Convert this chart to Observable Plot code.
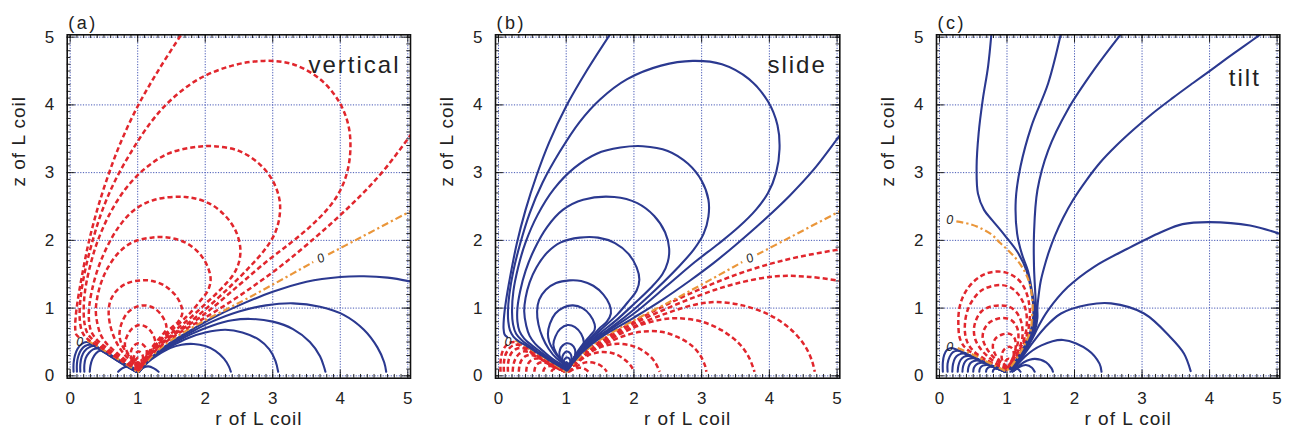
<!DOCTYPE html>
<html>
<head>
<meta charset="utf-8">
<script src="https://cdn.jsdelivr.net/npm/d3@7"></script>
<script src="https://cdn.jsdelivr.net/npm/@observablehq/plot@0.6"></script>
<style>
  body { margin: 0; background: #fff; }
  #wrap { position: relative; width: 1297px; height: 440px; overflow: hidden; }
  #wrap svg { position: absolute; top: 0; }
</style>
</head>
<body>
<div id="wrap"></div>
<script>
// ---- axis ticks and panel labels ----
const rTicks = [0, 1, 2, 3, 4, 5];
const zTicks = [0, 1, 2, 3, 4, 5];
const panelLetters = ["(a)", "(b)", "(c)"];
const panelNames = ["vertical", "slide", "tilt"];
const axisTitleX = "r of L coil";
const axisTitleZ = "z of L coil";

// ---- loops above the diagonal (same geometry in "vertical" and "slide") ----
const upperLoops = [
  [[0.13,0.57],[0.09,0.61],[0.075,0.7],[0.08,0.85],[0.11,1.1],[0.17,1.45],[0.27,1.95],[0.4,2.45],[0.56,2.95],[0.75,3.45],[1.0,3.98],[1.3,4.5],[1.66,5.06]],
  [[5.06,3.58],[4.65,3.04],[4.3,2.66],[3.91,2.29],[3.51,1.94],[3.17,1.66],[2.82,1.4],[2.43,1.13],[2.0,0.86],[1.5,0.56],[1.25,0.36],[1.1,0.2],[1.01,0.08]],
  [[1.01,0.08],[0.8,0.2],[0.6,0.325],[0.42,0.44],[0.3,0.51],[0.22,0.58],[0.17,0.67],[0.145,0.8],[0.14,0.95],[0.16,1.2],[0.22,1.55],[0.32,1.95],[0.46,2.4],[0.65,2.85],[0.9,3.3],[1.2,3.75],[1.5,4.08],[1.9,4.38],[2.4,4.58],[2.87,4.65],[3.3,4.6],[3.7,4.38],[3.98,4.05],[4.12,3.7],[4.15,3.35],[4.1,3.0],[3.98,2.7],[3.8,2.45],[3.55,2.2],[3.25,1.95],[2.9,1.68],[2.5,1.34],[2.0,0.92],[1.5,0.58],[1.25,0.38],[1.1,0.21],[1.02,0.09]],
  [[1.02,0.09],[0.8,0.21],[0.6,0.34],[0.45,0.445],[0.34,0.53],[0.26,0.62],[0.215,0.76],[0.2,0.95],[0.22,1.25],[0.29,1.6],[0.4,1.97],[0.58,2.38],[0.82,2.76],[1.12,3.07],[1.45,3.28],[1.8,3.37],[2.13,3.39],[2.5,3.32],[2.8,3.13],[3.0,2.88],[3.1,2.6],[3.1,2.35],[3.03,2.1],[2.88,1.86],[2.65,1.6],[2.35,1.3],[2.0,0.98],[1.7,0.74],[1.5,0.6],[1.25,0.4],[1.1,0.23],[1.03,0.1]],
  [[1.03,0.1],[0.8,0.225],[0.62,0.355],[0.48,0.46],[0.38,0.55],[0.31,0.66],[0.28,0.8],[0.28,1.0],[0.32,1.25],[0.4,1.55],[0.53,1.87],[0.72,2.2],[0.95,2.45],[1.25,2.6],[1.71,2.64],[2.05,2.55],[2.3,2.36],[2.46,2.12],[2.52,1.88],[2.5,1.68],[2.42,1.5],[2.25,1.3],[2.0,1.06],[1.75,0.83],[1.5,0.63],[1.25,0.42],[1.1,0.25],[1.04,0.11]],
  [[1.04,0.11],[0.82,0.235],[0.66,0.365],[0.54,0.475],[0.46,0.59],[0.41,0.74],[0.38,0.95],[0.4,1.15],[0.46,1.38],[0.56,1.6],[0.72,1.82],[0.92,1.97],[1.2,2.04],[1.47,2.04],[1.72,1.96],[1.92,1.8],[2.04,1.6],[2.08,1.42],[2.04,1.26],[1.92,1.1],[1.75,0.9],[1.5,0.67],[1.27,0.45],[1.12,0.27],[1.05,0.12]],
  [[1.05,0.12],[0.86,0.255],[0.74,0.4],[0.65,0.57],[0.59,0.76],[0.57,0.95],[0.6,1.12],[0.7,1.27],[0.85,1.37],[1.05,1.41],[1.22,1.4],[1.4,1.33],[1.55,1.2],[1.64,1.05],[1.66,0.92],[1.6,0.8],[1.5,0.71],[1.38,0.58],[1.25,0.44],[1.13,0.29],[1.06,0.13]],
  [[1.06,0.14],[0.9,0.26],[0.81,0.38],[0.75,0.5],[0.73,0.62],[0.76,0.77],[0.84,0.92],[0.96,1.01],[1.1,1.04],[1.24,1.0],[1.35,0.9],[1.42,0.76],[1.42,0.68],[1.36,0.6],[1.25,0.47],[1.14,0.31],[1.07,0.15]],
  [[1.03,0.15],[0.92,0.24],[0.85,0.34],[0.81,0.46],[0.84,0.58],[0.91,0.69],[1.02,0.75],[1.13,0.72],[1.22,0.62],[1.26,0.5],[1.24,0.39],[1.17,0.28],[1.09,0.19],[1.03,0.15]],
  [[1.02,0.16],[0.95,0.21],[0.9,0.3],[0.91,0.39],[0.95,0.45],[1.01,0.48],[1.08,0.46],[1.13,0.39],[1.13,0.3],[1.09,0.22],[1.02,0.16]],
  [[1.01,0.14],[0.96,0.18],[0.94,0.25],[0.96,0.32],[1.01,0.36],[1.06,0.33],[1.08,0.26],[1.06,0.18],[1.01,0.14]],
  [[1.0,0.11],[0.97,0.15],[0.96,0.2],[0.98,0.25],[1.01,0.27],[1.05,0.25],[1.06,0.19],[1.04,0.13],[1.0,0.11]],
  [[1.0,0.08],[0.975,0.11],[0.975,0.16],[1.0,0.2],[1.03,0.18],[1.035,0.12],[1.02,0.09],[1.0,0.08]]
];

// ---- zero contour shared by the first two panels ----
const zeroRightAB = [
  [[1.0,0.05],[1.25,0.33],[1.5,0.53],[2.0,0.82],[2.35,1.0],[2.6,1.13],[3.06,1.38],[3.6,1.68]],
  [[3.82,1.79],[4.22,2.0],[5.06,2.44]]
];
const zeroLeftAB = [[[0.25,0.52],[0.4,0.44],[0.6,0.315],[0.8,0.19],[0.98,0.07]]];
const zeroLabelsAB = [{r: 0.14, z: 0.5, a: 0}, {r: 3.71, z: 1.735, a: -27}];

// ---- "vertical": positive contours below the diagonal ----
const verticalArcsRight = [
  [[1.02,0.06],[1.25,0.31],[1.5,0.5],[1.8,0.68],[2.1,0.85],[2.5,1.04],[3.0,1.24],[3.5,1.39],[4.0,1.46],[4.35,1.47],[4.7,1.45],[5.06,1.39]],
  [[1.02,0.06],[1.25,0.3],[1.5,0.48],[1.8,0.65],[2.1,0.8],[2.5,0.95],[2.9,1.04],[3.3,1.07],[3.7,1.02],[4.05,0.9],[4.35,0.68],[4.55,0.42],[4.65,0.2],[4.68,0.06]],
  [[1.02,0.06],[1.22,0.28],[1.5,0.46],[1.8,0.62],[2.1,0.74],[2.4,0.82],[2.67,0.84],[3.0,0.8],[3.3,0.69],[3.55,0.5],[3.7,0.29],[3.76,0.13],[3.78,0.06]],
  [[1.02,0.06],[1.2,0.26],[1.5,0.44],[1.75,0.56],[2.0,0.64],[2.3,0.68],[2.55,0.64],[2.8,0.53],[2.95,0.39],[3.04,0.22],[3.08,0.06]],
  [[1.02,0.06],[1.15,0.2],[1.3,0.31],[1.48,0.41],[1.65,0.46],[1.83,0.47],[2.0,0.44],[2.15,0.37],[2.28,0.25],[2.35,0.14],[2.38,0.06]]
];
const verticalArcsLeft = [
  [[0.05,0.06],[0.05,0.18],[0.07,0.3],[0.11,0.4],[0.17,0.47],[0.24,0.5],[0.32,0.47],[0.5,0.37],[0.7,0.245],[0.85,0.15],[0.98,0.06]],
  [[0.1,0.06],[0.1,0.18],[0.12,0.29],[0.16,0.38],[0.22,0.44],[0.3,0.46],[0.38,0.43],[0.5,0.36],[0.7,0.237],[0.85,0.145],[0.98,0.06]],
  [[0.15,0.06],[0.15,0.17],[0.17,0.28],[0.21,0.36],[0.28,0.42],[0.35,0.44],[0.42,0.41],[0.5,0.355],[0.7,0.23],[0.85,0.14],[0.98,0.06]],
  [[0.21,0.06],[0.21,0.16],[0.23,0.26],[0.28,0.34],[0.34,0.39],[0.41,0.405],[0.5,0.35],[0.7,0.225],[0.85,0.135],[0.98,0.06]],
  [[0.29,0.06],[0.3,0.15],[0.33,0.25],[0.38,0.33],[0.44,0.37],[0.52,0.34],[0.7,0.22],[0.85,0.13],[0.98,0.06]],
  [[0.71,0.06],[0.77,0.11],[0.85,0.14],[0.93,0.12],[0.98,0.07]],
  [[1.02,0.07],[1.08,0.12],[1.16,0.14],[1.24,0.11],[1.31,0.06]]
];

// ---- "slide": negative contours below the diagonal ----
const slideArcsRight = [
  [[1.02,0.06],[1.25,0.32],[1.5,0.51],[2.0,0.8],[2.5,1.06],[3.0,1.29],[3.5,1.49],[4.0,1.65],[4.5,1.77],[5.06,1.87]],
  [[1.02,0.06],[1.25,0.31],[1.5,0.49],[2.0,0.77],[2.5,1.0],[3.0,1.2],[3.5,1.36],[4.1,1.47],[4.6,1.46],[5.06,1.4]],
  [[1.02,0.06],[1.25,0.3],[1.5,0.47],[2.0,0.73],[2.5,0.93],[2.9,1.05],[3.22,1.09],[3.6,1.04],[4.0,0.9],[4.3,0.7],[4.52,0.45],[4.63,0.22],[4.67,0.06]],
  [[1.02,0.06],[1.25,0.29],[1.5,0.45],[1.8,0.62],[2.1,0.75],[2.4,0.83],[2.65,0.85],[3.0,0.8],[3.3,0.67],[3.55,0.48],[3.7,0.27],[3.78,0.06]],
  [[1.02,0.06],[1.25,0.28],[1.5,0.43],[1.8,0.57],[2.1,0.65],[2.4,0.65],[2.65,0.57],[2.85,0.45],[2.98,0.3],[3.05,0.15],[3.07,0.06]],
  [[1.02,0.06],[1.2,0.25],[1.45,0.4],[1.7,0.47],[1.95,0.45],[2.15,0.36],[2.3,0.22],[2.38,0.06]],
  [[1.03,0.06],[1.15,0.18],[1.32,0.3],[1.5,0.35],[1.7,0.33],[1.85,0.25],[1.96,0.14],[2.0,0.06]],
  [[1.04,0.06],[1.15,0.14],[1.3,0.2],[1.45,0.18],[1.55,0.12],[1.6,0.06]],
  [[1.04,0.06],[1.12,0.1],[1.2,0.12],[1.28,0.1],[1.33,0.06]]
];
const slideArcsLeft = [
  [[0.03,0.06],[0.03,0.2],[0.05,0.33],[0.09,0.42],[0.15,0.48],[0.23,0.5],[0.32,0.47],[0.5,0.37],[0.7,0.245],[0.85,0.15],[0.98,0.06]],
  [[0.08,0.06],[0.08,0.19],[0.1,0.3],[0.14,0.38],[0.2,0.44],[0.28,0.46],[0.38,0.42],[0.5,0.355],[0.7,0.235],[0.85,0.145],[0.98,0.06]],
  [[0.14,0.06],[0.14,0.17],[0.16,0.27],[0.2,0.35],[0.27,0.4],[0.35,0.41],[0.44,0.37],[0.55,0.31],[0.7,0.225],[0.85,0.14],[0.98,0.06]],
  [[0.21,0.06],[0.22,0.16],[0.25,0.25],[0.3,0.32],[0.37,0.36],[0.45,0.35],[0.55,0.3],[0.7,0.215],[0.85,0.135],[0.98,0.06]],
  [[0.3,0.06],[0.31,0.15],[0.34,0.23],[0.4,0.29],[0.47,0.31],[0.55,0.29],[0.65,0.235],[0.8,0.15],[0.98,0.06]],
  [[0.41,0.06],[0.42,0.14],[0.46,0.21],[0.52,0.25],[0.59,0.255],[0.67,0.22],[0.8,0.145],[0.98,0.06]],
  [[0.53,0.06],[0.54,0.12],[0.58,0.18],[0.64,0.2],[0.71,0.19],[0.8,0.14],[0.9,0.1],[0.98,0.06]],
  [[0.66,0.06],[0.68,0.11],[0.73,0.14],[0.8,0.14],[0.88,0.11],[0.98,0.06]],
  [[0.78,0.06],[0.8,0.09],[0.85,0.105],[0.91,0.095],[0.98,0.06]]
];

// ---- "tilt" ----
const tiltFan = [
  [[0.77,5.06],[0.72,4.57],[0.64,4.07],[0.58,3.58],[0.55,3.09],[0.57,2.69],[0.66,2.45],[0.78,2.3],[0.97,2.07],[1.16,1.82],[1.29,1.55],[1.36,1.25],[1.39,1.0],[1.38,0.8],[1.33,0.6],[1.24,0.4],[1.13,0.22],[1.04,0.1]],
  [[1.8,5.06],[1.61,4.32],[1.36,3.68],[1.2,3.09],[1.13,2.6],[1.15,2.1],[1.22,1.8],[1.31,1.55],[1.37,1.25],[1.41,1.0],[1.41,0.85],[1.37,0.65],[1.28,0.43],[1.15,0.23],[1.05,0.1]],
  [[2.7,5.06],[2.29,4.52],[1.9,3.93],[1.61,3.33],[1.45,2.74],[1.4,2.1],[1.4,1.61],[1.42,1.2],[1.43,1.0],[1.43,0.85],[1.39,0.65],[1.3,0.44],[1.17,0.24],[1.06,0.1]],
  [[4.78,5.06],[4.5,4.86],[4.26,4.69],[4.0,4.5],[3.75,4.32],[3.45,4.1],[3.15,3.87],[2.88,3.64],[2.62,3.4],[2.38,3.15],[2.17,2.88],[1.98,2.6],[1.83,2.33],[1.71,2.07],[1.62,1.83],[1.55,1.6],[1.5,1.4],[1.47,1.2],[1.45,1.0],[1.45,0.85],[1.41,0.65],[1.32,0.45],[1.19,0.25],[1.07,0.1]],
  [[5.06,2.09],[4.6,2.22],[4.0,2.27],[3.6,2.24],[3.28,2.12],[2.79,1.88],[2.29,1.61],[1.9,1.31],[1.61,0.97],[1.47,0.74],[1.38,0.56],[1.27,0.38],[1.16,0.22],[1.07,0.1]],
  [[1.08,0.09],[1.2,0.24],[1.35,0.45],[1.55,0.7],[1.8,0.92],[2.2,1.05],[2.54,1.07],[3.03,0.92],[3.42,0.57],[3.62,0.33],[3.72,0.07]],
  [[1.09,0.08],[1.26,0.28],[1.51,0.45],[1.83,0.53],[2.2,0.38],[2.37,0.18],[2.4,0.06]],
  [[1.1,0.07],[1.25,0.2],[1.41,0.25],[1.58,0.2],[1.66,0.11],[1.68,0.06]],
  [[1.08,0.06],[1.18,0.13],[1.28,0.16],[1.37,0.12],[1.41,0.06]],
  [[1.05,0.06],[1.1,0.09],[1.16,0.1],[1.2,0.06]]
];
const tiltArcsLeft = [
  [[0.05,0.06],[0.05,0.2],[0.07,0.31],[0.11,0.38],[0.17,0.41],[0.25,0.39],[0.5,0.28],[0.75,0.165],[0.97,0.07]],
  [[0.12,0.06],[0.12,0.18],[0.15,0.28],[0.2,0.35],[0.27,0.37],[0.35,0.345],[0.5,0.275],[0.75,0.16],[0.97,0.068]],
  [[0.19,0.06],[0.2,0.17],[0.23,0.26],[0.28,0.31],[0.35,0.33],[0.42,0.31],[0.55,0.25],[0.75,0.155],[0.97,0.066]],
  [[0.27,0.06],[0.28,0.15],[0.31,0.23],[0.36,0.28],[0.43,0.295],[0.5,0.27],[0.6,0.225],[0.75,0.15],[0.97,0.064]],
  [[0.34,0.06],[0.35,0.14],[0.38,0.21],[0.43,0.25],[0.5,0.26],[0.57,0.24],[0.65,0.2],[0.78,0.14],[0.97,0.062]],
  [[0.42,0.06],[0.43,0.13],[0.46,0.19],[0.51,0.22],[0.58,0.225],[0.65,0.2],[0.75,0.15],[0.87,0.1],[0.97,0.06]],
  [[0.5,0.06],[0.51,0.12],[0.55,0.17],[0.6,0.19],[0.66,0.19],[0.73,0.165],[0.83,0.12],[0.97,0.06]],
  [[0.59,0.06],[0.6,0.11],[0.64,0.15],[0.7,0.16],[0.76,0.15],[0.85,0.11],[0.97,0.06]],
  [[0.69,0.06],[0.7,0.1],[0.74,0.13],[0.8,0.13],[0.87,0.11],[0.97,0.06]],
  [[0.79,0.06],[0.8,0.09],[0.85,0.11],[0.91,0.1],[0.97,0.06]]
];
const tiltLoops = [
  [[1.0,0.08],[0.8,0.17],[0.6,0.27],[0.45,0.36],[0.36,0.44],[0.3,0.56],[0.28,0.75],[0.29,0.97],[0.34,1.15],[0.44,1.32],[0.58,1.45],[0.72,1.52],[0.87,1.54],[1.0,1.52],[1.12,1.46],[1.22,1.36],[1.29,1.22],[1.33,1.05],[1.34,0.9],[1.32,0.7],[1.26,0.5],[1.17,0.32],[1.08,0.17],[1.02,0.09]],
  [[1.0,0.09],[0.8,0.18],[0.62,0.28],[0.5,0.37],[0.42,0.48],[0.38,0.62],[0.38,0.8],[0.42,0.98],[0.5,1.13],[0.62,1.26],[0.76,1.32],[0.92,1.34],[1.06,1.3],[1.17,1.2],[1.25,1.06],[1.29,0.9],[1.29,0.72],[1.25,0.53],[1.17,0.35],[1.08,0.19],[1.02,0.1]],
  [[1.0,0.1],[0.84,0.19],[0.7,0.3],[0.6,0.41],[0.53,0.54],[0.51,0.68],[0.54,0.82],[0.62,0.95],[0.75,1.02],[0.9,1.04],[1.03,1.02],[1.13,0.95],[1.2,0.83],[1.23,0.68],[1.22,0.52],[1.16,0.36],[1.08,0.21],[1.02,0.11]],
  [[1.0,0.11],[0.87,0.21],[0.76,0.32],[0.68,0.44],[0.64,0.56],[0.66,0.68],[0.73,0.78],[0.85,0.84],[0.98,0.85],[1.08,0.81],[1.15,0.71],[1.17,0.58],[1.15,0.44],[1.1,0.3],[1.05,0.19],[1.01,0.12]],
  [[1.0,0.12],[0.9,0.21],[0.82,0.33],[0.79,0.44],[0.83,0.55],[0.93,0.61],[1.04,0.62],[1.11,0.56],[1.13,0.45],[1.11,0.32],[1.06,0.2],[1.01,0.13]],
  [[1.0,0.13],[0.94,0.2],[0.92,0.3],[0.96,0.39],[1.04,0.43],[1.09,0.38],[1.1,0.28],[1.07,0.19],[1.02,0.14]],
  [[1.0,0.1],[0.97,0.15],[0.98,0.22],[1.03,0.25],[1.06,0.2],[1.05,0.14],[1.01,0.1]]
];
const tiltZero = [
  [[0.25,2.28],[0.45,2.24],[0.61,2.18],[0.78,2.08],[0.9,1.96],[1.03,1.84],[1.15,1.71],[1.24,1.58],[1.3,1.46],[1.35,1.3],[1.37,1.17],[1.38,1.0],[1.37,0.88],[1.35,0.67],[1.27,0.48],[1.17,0.3],[1.07,0.15],[1.0,0.08]],
  [[0.27,0.41],[0.45,0.335],[0.65,0.235],[0.85,0.135],[0.98,0.07]]
];
const zeroLabelsC = [{r: 0.15, z: 2.3, a: 0}, {r: 0.15, z: 0.43, a: 0}];

// ---- drawing ----
const X_DOMAIN = [-0.044, 5.04];
const Y_DOMAIN = [-0.035, 5.035];
const BLUE = "#2b3990", RED = "#e1262d", ORANGE = "#ea963a", GRID = "#4557b5";
const FONT = "'Liberation Sans', Arial, sans-serif";

const rows = curves => curves.flatMap((c, i) => c.map(([r, z]) => ({r, z, id: i})));

function solid(curves) {
  return Plot.line(rows(curves), {x: "r", y: "z", z: "id", curve: "catmull-rom", clip: true,
    stroke: BLUE, strokeWidth: 2.1});
}
function dashed(curves) {
  return Plot.line(rows(curves), {x: "r", y: "z", z: "id", curve: "catmull-rom", clip: true,
    stroke: RED, strokeWidth: 2.5, strokeDasharray: "5,3", strokeLinecap: "butt"});
}
function zero(curves) {
  return Plot.line(rows(curves), {x: "r", y: "z", z: "id", curve: "catmull-rom", clip: true,
    stroke: ORANGE, strokeWidth: 2.2, strokeDasharray: "7,3,2.2,3", strokeLinecap: "butt"});
}

function frameMarks() {
  const [x0, x1] = X_DOMAIN, [y0, y1] = Y_DOMAIN;
  const minor = d3.range(0, 51).map(i => i / 10);
  const m = 0.055, M = 0.12;
  const tick = {stroke: "#111", strokeWidth: 0.9};
  return [
    Plot.ruleX(rTicks, {x: d => d, stroke: GRID, strokeWidth: 1, strokeDasharray: "1.2,1.5"}),
    Plot.ruleY(zTicks, {y: d => d, stroke: GRID, strokeWidth: 1, strokeDasharray: "1.2,1.5"}),
    Plot.ruleX(minor, {x: d => d, y1: y0, y2: y0 + m, ...tick}),
    Plot.ruleX(minor, {x: d => d, y1: y1, y2: y1 - m, ...tick}),
    Plot.ruleY(minor, {y: d => d, x1: x0, x2: x0 + m, ...tick}),
    Plot.ruleY(minor, {y: d => d, x1: x1, x2: x1 - m, ...tick}),
    Plot.ruleX(rTicks, {x: d => d, y1: y0, y2: y0 + M, ...tick}),
    Plot.ruleX(rTicks, {x: d => d, y1: y1, y2: y1 - M, ...tick}),
    Plot.ruleY(zTicks, {y: d => d, x1: x0, x2: x0 + M, ...tick}),
    Plot.ruleY(zTicks, {y: d => d, x1: x1, x2: x1 - M, ...tick})
  ];
}

function panel(i, opts) {
  const {left, width, marginLeft, marginRight, nameDx, nameDy, layers, zeroLabels} = opts;
  const [x0] = X_DOMAIN, [y0] = Y_DOMAIN;
  const svg = Plot.plot({
    width, height: 440,
    marginLeft, marginRight, marginTop: 34.3, marginBottom: 62.3,
    x: {domain: X_DOMAIN, axis: null},
    y: {domain: Y_DOMAIN, axis: null},
    style: {fontFamily: FONT, background: "transparent", overflow: "visible"},
    marks: [
      ...frameMarks(),
      ...layers,
      Plot.text(zeroLabels, {x: "r", y: "z", text: () => "0", rotate: "a", fontSize: 12.5,
        fill: "#222", fontStyle: "italic"}),
      Plot.frame({stroke: "#111", strokeWidth: 1.6}),
      Plot.text(rTicks, {x: d => d, y: y0, dy: 20.5, text: d => String(d), fontSize: 17, fill: "#222"}),
      Plot.text(zTicks, {x: x0, y: d => d, dx: -13, textAnchor: "end", text: d => String(d), fontSize: 17, fill: "#222"}),
      Plot.text([panelNames[i]], {frameAnchor: "top-right", dx: nameDx, dy: nameDy, textAnchor: "end",
        text: d => d, fontSize: 24, fill: "#222"}),
      Plot.text([panelLetters[i]], {frameAnchor: "top-left", dx: 1, dy: -19, textAnchor: "start",
        text: d => d, fontSize: 18, fill: "#222"}),
      Plot.text([axisTitleX], {frameAnchor: "bottom", dx: 20, dy: 46.5, text: d => d, fontSize: 19, fill: "#222"}),
      Plot.text([axisTitleZ], {frameAnchor: "left", dx: -48.5, dy: -20, rotate: -90, text: d => d, fontSize: 19, fill: "#222"})
    ]
  });
  svg.style.left = left + "px";
  const spaced = {[panelNames[i]]: "2px", [panelLetters[i]]: "2.5px", [axisTitleX]: "1px", [axisTitleZ]: "1px"};
  d3.select(svg).selectAll("text").each(function () {
    const s = spaced[this.textContent];
    if (s) this.style.letterSpacing = s;
  });
  document.getElementById("wrap").appendChild(svg);
}

panel(0, {
  left: 0, width: 430, marginLeft: 66.7, marginRight: 20, nameDx: -10, nameDy: 21,
  zeroLabels: zeroLabelsAB,
  layers: [solid(verticalArcsRight), solid(verticalArcsLeft), zero(zeroRightAB), zero(zeroLeftAB), dashed(upperLoops)]
});
panel(1, {
  left: 430, width: 430, marginLeft: 65, marginRight: 20.7, nameDx: -13, nameDy: 21,
  zeroLabels: zeroLabelsAB,
  layers: [dashed(slideArcsRight), dashed(slideArcsLeft), zero(zeroRightAB), zero(zeroLeftAB), solid(upperLoops)]
});
panel(2, {
  left: 860, width: 437, marginLeft: 76, marginRight: 17.7, nameDx: -19, nameDy: 34,
  zeroLabels: zeroLabelsC,
  layers: [dashed(tiltLoops), solid(tiltFan), solid(tiltArcsLeft), zero(tiltZero)]
});
</script>
</body>
</html>
